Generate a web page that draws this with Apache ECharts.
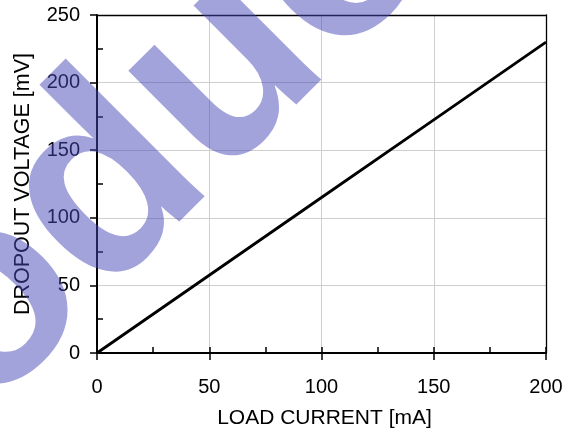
<!DOCTYPE html>
<html><head><meta charset="utf-8">
<script src="https://cdn.jsdelivr.net/npm/echarts@6/dist/echarts.min.js"></script>
<style>html,body{margin:0;padding:0;background:#fff}#c{width:573px;height:431px}</style>
</head><body><div id="c"></div>
<script>
const loadCurrent = [0, 50, 100, 150, 200];
const dropoutVoltage = [0, 57.5, 115, 172.5, 230];
const yMinorTicks = [25, 75, 125, 175, 225];
const xName = 'LOAD CURRENT [mA]';
const yName = 'DROPOUT VOLTAGE [mV]';
const watermark = 'product';

const FONT = '"Liberation Sans", Arial, sans-serif';
const chart = echarts.init(document.getElementById('c'), null, {renderer: 'canvas'});
const hidden = {axisLine:{show:false}, axisTick:{show:false}, axisLabel:{show:false}, splitLine:{show:false}};
chart.setOption({
  animation: false,
  backgroundColor: '#fff',
  grid: {left: 97, right: 27, top: 15, bottom: 78, containLabel: false, outerBoundsMode: 'none'},
  xAxis: [
    {type: 'value', min: 0, max: 200, interval: 50, position: 'bottom',
     name: xName, nameLocation: 'middle', nameGap: 55,
     nameTextStyle: {fontFamily: FONT, fontSize: 21, color: '#000', padding: [0, 0, 0, 6]},
     axisLine: {show: true, onZero: false, lineStyle: {color: '#000', width: 2}},
     axisTick: {show: true, inside: false, length: 7, lineStyle: {color: '#000', width: 1.5}},
     axisLabel: {fontFamily: FONT, fontSize: 20, color: '#000', margin: 24},
     splitLine: {show: true, lineStyle: {color: '#cfcfcf', width: 1}}},
    Object.assign({type: 'value', min: 0, max: 200, interval: 25, position: 'bottom'}, hidden,
     {axisTick: {show: true, inside: true, length: 6, lineStyle: {color: '#000', width: 1.5}}}),
    Object.assign({type: 'value', min: 0, max: 200, position: 'top'}, hidden,
     {axisLine: {show: true, onZero: false, lineStyle: {color: '#000', width: 1.3}}})
  ],
  yAxis: [
    {type: 'value', min: 0, max: 250, interval: 50, position: 'left',
     name: yName, nameLocation: 'middle', nameGap: 63,
     nameTextStyle: {fontFamily: FONT, fontSize: 21.5, color: '#000'},
     axisLine: {show: true, onZero: false, lineStyle: {color: '#000', width: 2}},
     axisTick: {show: true, inside: false, length: 7, lineStyle: {color: '#000', width: 1.5}},
     axisLabel: {fontFamily: FONT, fontSize: 20, color: '#000', margin: 17},
     splitLine: {show: true, lineStyle: {color: '#cfcfcf', width: 1}}},
    Object.assign({type: 'value', min: 0, max: 250, position: 'left'}, hidden,
     {axisTick: {show: true, inside: true, length: 6, customValues: yMinorTicks, lineStyle: {color: '#000', width: 1.5}}}),
    Object.assign({type: 'value', min: 0, max: 250, position: 'right'}, hidden,
     {axisLine: {show: true, onZero: false, lineStyle: {color: '#000', width: 1.3}}})
  ],
  series: [{
    type: 'line', xAxisIndex: 0, yAxisIndex: 0,
    data: loadCurrent.map((x, i) => [x, dropoutVoltage[i]]),
    showSymbol: false, symbol: 'none',
    lineStyle: {color: '#000', width: 2.8}
  }],
  graphic: [{
    type: 'text', z: 100, x: 0, y: 0, rotation: Math.PI / 4, silent: true,
    style: {text: watermark, x: -576, y: 209,
      fill: 'rgba(71,71,183,0.5)',
      fontFamily: '"Liberation Sans", Arial, sans-serif', fontWeight: 'bold', fontSize: 270,
      align: 'left', verticalAlign: 'middle', textAlign: 'left', textVerticalAlign: 'middle'}
  }]
});
</script></body></html>
